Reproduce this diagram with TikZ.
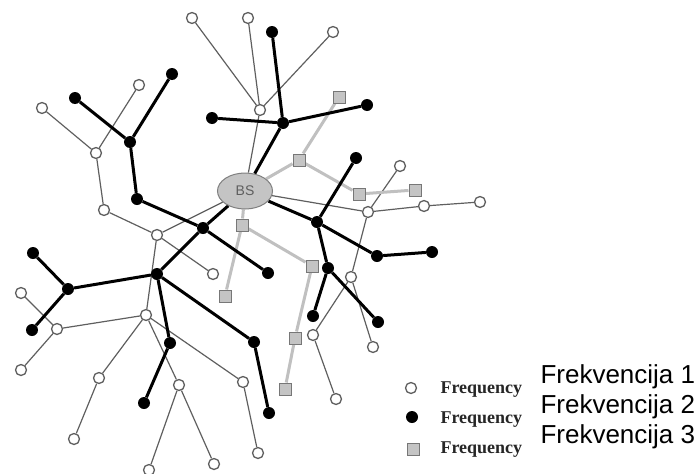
\documentclass[tikz,border=0pt]{standalone}
\usepackage{fontspec}
\setmainfont{Liberation Sans}
\newfontfamily\legendfont{Liberation Serif}
\usepackage{tikz}
\usetikzlibrary{shapes.geometric, backgrounds}
\definecolor{mylinegray}{RGB}{95, 95, 95}
\definecolor{mylightgray}{RGB}{192, 192, 192}
\definecolor{myfillgray}{RGB}{196, 196, 196}

\begin{document}
\begin{tikzpicture}[x = 1pt, y = -1pt,
  freqone/.style = {circle, draw = mylinegray, fill = white, line width = 1.3pt, inner sep = 0pt, minimum size = 11pt},
  freqtwo/.style = {circle, fill = black, inner sep = 0pt, minimum size = 12pt},
  freqthree/.style = {rectangle, draw = mylinegray!85, fill = myfillgray, line width = 1pt, inner sep = 0pt, minimum size = 12pt},
  linkone/.style = {draw = mylinegray, line width = 1.2pt},
  linktwo/.style = {draw = black, line width = 3pt},
  linkthree/.style = {draw = mylightgray, line width = 3pt},
  legend/.style = {anchor = base west, font = \legendfont\bfseries\fontsize{18}{20}\selectfont, text = black!85},
  caption/.style = {anchor = base west, font = \fontsize{26}{30}\selectfont}]
  \useasboundingbox (0, 0) rectangle (694, 474);

  % base station
  \node [ellipse, draw = mylinegray!80, fill = myfillgray, line width = 1pt, minimum width = 55pt, minimum height = 36pt,
    text = mylinegray, font = \fontsize{14}{16}\selectfont] (bs) at (245, 191) {BS};

  % frequency 1 nodes
  \node [freqone] (w1) at (192, 18) {};
  \node [freqone] (w2) at (248, 18) {};
  \node [freqone] (w3) at (333, 32) {};
  \node [freqone] (w4) at (260, 110) {};
  \node [freqone] (w5) at (139, 85) {};
  \node [freqone] (w6) at (42, 108) {};
  \node [freqone] (w7) at (96, 153) {};
  \node [freqone] (w8) at (104, 210) {};
  \node [freqone] (w9) at (157, 235) {};
  \node [freqone] (w10) at (213, 274) {};
  \node [freqone] (w11) at (146, 315) {};
  \node [freqone] (w12) at (21, 293) {};
  \node [freqone] (w13) at (57, 329) {};
  \node [freqone] (w14) at (21, 370) {};
  \node [freqone] (w15) at (99, 378) {};
  \node [freqone] (w16) at (74, 439) {};
  \node [freqone] (w17) at (179, 385) {};
  \node [freqone] (w18) at (149, 470) {};
  \node [freqone] (w19) at (214, 464) {};
  \node [freqone] (w20) at (243, 382) {};
  \node [freqone] (w21) at (258, 453) {};
  \node [freqone] (w22) at (400, 166) {};
  \node [freqone] (w23) at (368, 212) {};
  \node [freqone] (w24) at (424, 206) {};
  \node [freqone] (w25) at (480, 202) {};
  \node [freqone] (w26) at (351, 277) {};
  \node [freqone] (w27) at (373, 347) {};
  \node [freqone] (w28) at (313, 335) {};
  \node [freqone] (w29) at (336, 399) {};

  % frequency 2 nodes
  \node [freqtwo] (b1) at (272, 32) {};
  \node [freqtwo] (b2) at (283, 123) {};
  \node [freqtwo] (b3) at (212, 118) {};
  \node [freqtwo] (b4) at (367, 105) {};
  \node [freqtwo] (b5) at (172, 74) {};
  \node [freqtwo] (b6) at (75, 98) {};
  \node [freqtwo] (b7) at (130, 142) {};
  \node [freqtwo] (b8) at (137, 199) {};
  \node [freqtwo] (b9) at (203, 228) {};
  \node [freqtwo] (b10) at (268, 273) {};
  \node [freqtwo] (b11) at (157, 274) {};
  \node [freqtwo] (b12) at (68, 289) {};
  \node [freqtwo] (b13) at (33, 253) {};
  \node [freqtwo] (b14) at (32, 330) {};
  \node [freqtwo] (b15) at (170, 343) {};
  \node [freqtwo] (b16) at (144, 403) {};
  \node [freqtwo] (b17) at (254, 342) {};
  \node [freqtwo] (b18) at (269, 413) {};
  \node [freqtwo] (b19) at (356, 158) {};
  \node [freqtwo] (b20) at (317, 222) {};
  \node [freqtwo] (b21) at (377, 256) {};
  \node [freqtwo] (b22) at (432, 252) {};
  \node [freqtwo] (b23) at (328, 268) {};
  \node [freqtwo] (b24) at (313, 316) {};
  \node [freqtwo] (b25) at (378, 322) {};

  % frequency 3 nodes
  \node [freqthree] (g1) at (339, 97) {};
  \node [freqthree] (g2) at (299, 160) {};
  \node [freqthree] (g3) at (359, 194) {};
  \node [freqthree] (g4) at (415, 190) {};
  \node [freqthree] (g5) at (242, 225) {};
  \node [freqthree] (g6) at (225, 296) {};
  \node [freqthree] (g7) at (312, 266) {};
  \node [freqthree] (g8) at (295, 338) {};
  \node [freqthree] (g9) at (285, 389) {};

  % edges
  \begin{scope}[on background layer]
    \draw [linkone] (bs) -- (w4) (w4) -- (w1) (w4) -- (w2) (w4) -- (w3)
      (w6) -- (w7) (w5) -- (w7) (w7) -- (w8) (w8) -- (w9) (w9) -- (bs)
      (w9) -- (w10) (w9) -- (w11) (w12) -- (w13) (w13) -- (w11) (w13) -- (w14)
      (w11) -- (w15) (w15) -- (w16) (w11) -- (w17) (w17) -- (w18) (w17) -- (w19)
      (w11) -- (w20) (w20) -- (w21) (bs) -- (w23) (w22) -- (w23) (w23) -- (w24)
      (w24) -- (w25) (w23) -- (w26) (w26) -- (w27) (w26) -- (w28) (w28) -- (w29);
    \draw [linkthree] (bs) -- (g2) (g2) -- (g1) (g2) -- (g3) (g3) -- (g4)
      (bs) -- (g5) (g5) -- (g6) (g5) -- (g7) (g7) -- (g8) (g8) -- (g9);
    \draw [linktwo] (bs) -- (b2) (b2) -- (b1) (b2) -- (b3) (b2) -- (b4)
      (b6) -- (b7) (b5) -- (b7) (b7) -- (b8) (b8) -- (b9) (b9) -- (bs)
      (b9) -- (b10) (b9) -- (b11) (b11) -- (b12) (b12) -- (b13) (b12) -- (b14)
      (b11) -- (b15) (b15) -- (b16) (b11) -- (b17) (b17) -- (b18)
      (bs) -- (b20) (b19) -- (b20) (b20) -- (b21) (b21) -- (b22)
      (b20) -- (b23) (b23) -- (b24) (b23) -- (b25);
  \end{scope}

  % legend
  \node [freqone] (key1) at (411, 388) {};
  \node [freqtwo] (key2) at (412, 417) {};
  \node [freqthree] (key3) at (413, 449) {};
  \node [legend] (freq1) at (437, 393) {Frequency};
  \node [legend] (freq2) at (437, 423) {Frequency};
  \node [legend] (freq3) at (437, 453) {Frequency};
  \node [caption] (frek1) at (537, 383) {Frekvencija 1};
  \node [caption] (frek2) at (537, 413) {Frekvencija 2};
  \node [caption] (frek3) at (537, 443) {Frekvencija 3};
\end{tikzpicture}
\end{document}
